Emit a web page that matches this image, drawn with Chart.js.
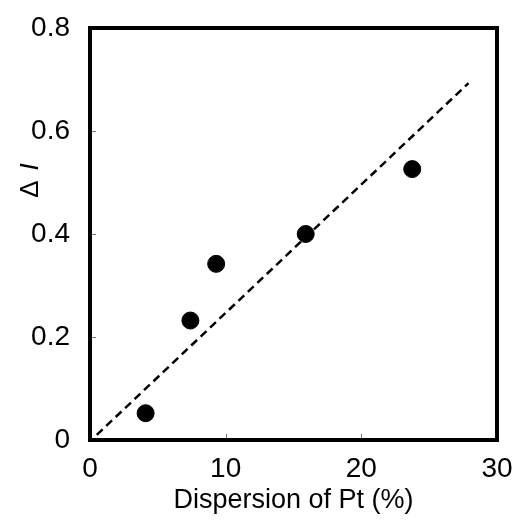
<!DOCTYPE html>
<html>
<head>
<meta charset="utf-8">
<script src="https://cdn.jsdelivr.net/npm/chart.js@4"></script>
<style>
  html, body { margin: 0; padding: 0; background: #fff; }
  #wrap { width: 517px; height: 523px; }
</style>
</head>
<body>
<div id="wrap"><canvas id="chart" width="517" height="523"></canvas></div>
<script>
// measured points
const dispersion = [4.1, 7.4, 9.3, 15.9, 23.75];
const deltaI = [0.052, 0.232, 0.342, 0.400, 0.526];

// dashed fit line ends
const fitX = [0.5, 27.9];
const fitY = [0.01, 0.693];

const xTicks = [0, 10, 20, 30];
const yTicks = [0, 0.2, 0.4, 0.6, 0.8];

const FONT = '"Liberation Sans", Arial, sans-serif';

// frame, inner ticks and the y title
const framePlugin = {
  id: 'frame',
  afterDraw(chart) {
    const ctx = chart.ctx;
    const a = chart.chartArea;
    const xs = chart.scales.x, ys = chart.scales.y;
    ctx.save();
    ctx.strokeStyle = '#777';
    ctx.lineWidth = 1;
    yTicks.slice(1, -1).forEach(v => {
      const py = Math.round(ys.getPixelForValue(v)) + 0.5;
      ctx.beginPath();
      ctx.moveTo(a.left, py);
      ctx.lineTo(a.left + 6, py);
      ctx.stroke();
    });
    xTicks.slice(1, -1).forEach(v => {
      const px = Math.round(xs.getPixelForValue(v)) + 0.5;
      ctx.beginPath();
      ctx.moveTo(px, a.bottom);
      ctx.lineTo(px, a.bottom - 6);
      ctx.stroke();
    });
    ctx.strokeStyle = '#000';
    ctx.lineWidth = 4;
    ctx.strokeRect(a.left, a.top, a.right - a.left, a.bottom - a.top);

    ctx.translate(31, 180);
    ctx.rotate(-Math.PI / 2);
    ctx.fillStyle = '#000';
    ctx.textAlign = 'center';
    ctx.textBaseline = 'middle';
    ctx.font = '26px ' + FONT;
    ctx.fillText('\u0394', -9, 0);
    ctx.font = 'italic 26px ' + FONT;
    ctx.fillText('I', 13, 0);
    ctx.restore();
  }
};

new Chart(document.getElementById('chart'), {
  type: 'scatter',
  data: {
    datasets: [
      {
        label: 'data',
        data: dispersion.map((x, i) => ({x: x, y: deltaI[i]})),
        backgroundColor: '#000',
        borderColor: '#000',
        pointRadius: 8.5,
        pointHoverRadius: 8.5,
        order: 0
      },
      {
        label: 'fit',
        type: 'line',
        data: fitX.map((x, i) => ({x: x, y: fitY[i]})),
        borderColor: '#000',
        borderWidth: 2.5,
        borderDash: [8, 5],
        pointRadius: 0,
        fill: false,
        order: 1
      }
    ]
  },
  options: {
    responsive: false,
    animation: false,
    layout: { padding: { top: 28, right: 20, left: 0, bottom: 0 } },
    plugins: {
      legend: { display: false },
      tooltip: { enabled: false }
    },
    scales: {
      x: {
        type: 'linear',
        min: 0, max: 30,
        afterBuildTicks: s => { s.ticks = xTicks.map(v => ({value: v})); },
        afterFit: s => { s.height = 83; s.paddingLeft = 0; s.paddingRight = 0; },
        grid: { display: false, drawTicks: false },
        border: { display: false },
        ticks: { color: '#000', padding: 12, font: { family: FONT, size: 28 } },
        title: {
          display: true,
          text: 'Dispersion of Pt (%)',
          color: '#000',
          padding: { top: 0, bottom: 6 },
          font: { family: FONT, size: 27 }
        }
      },
      y: {
        type: 'linear',
        min: 0, max: 0.8,
        afterBuildTicks: s => { s.ticks = yTicks.map(v => ({value: v})); },
        afterFit: s => { s.width = 90; s.paddingTop = 0; s.paddingBottom = 0; },
        grid: { display: false, drawTicks: false },
        border: { display: false },
        ticks: {
          color: '#000', padding: 20,
          font: { family: FONT, size: 28 },
          callback: v => v === 0 ? '0' : v.toFixed(1)
        }
      }
    }
  },
  plugins: [framePlugin]
});
</script>
</body>
</html>
